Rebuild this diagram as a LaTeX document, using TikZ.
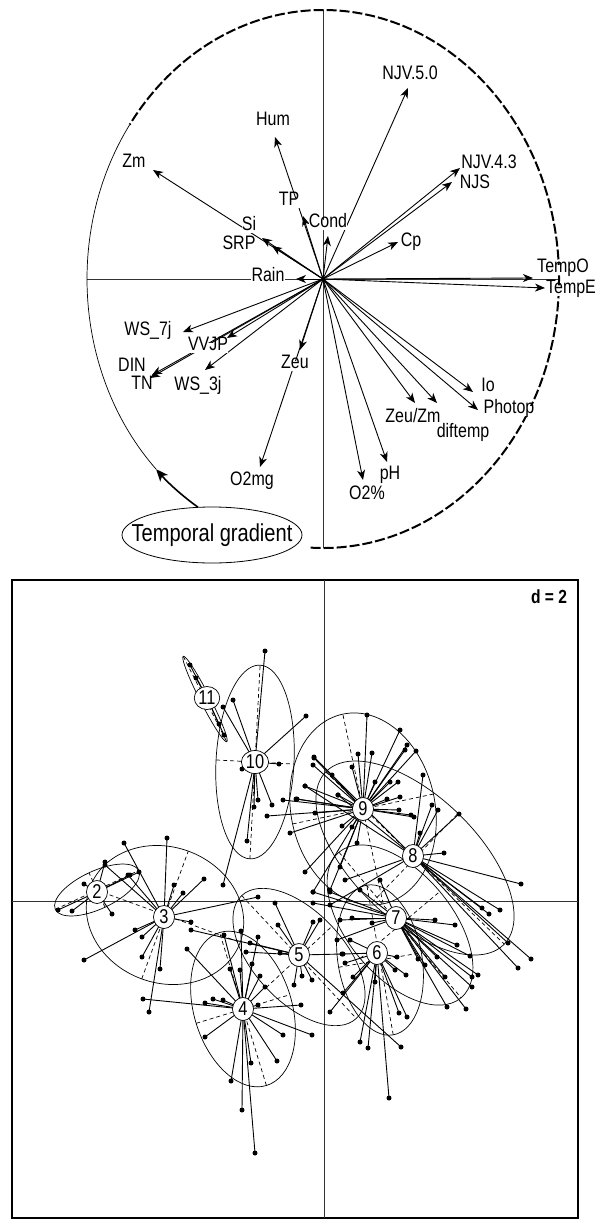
\documentclass[tikz,border=0pt]{standalone}
\usepackage{fontspec}
\setmainfont{Liberation Sans}[FakeStretch=0.82]
\usetikzlibrary{shapes.geometric, arrows.meta}

% ellipse of one group, with its two axes dashed
\newcommand{\grpell}[5]{%
  \begin{scope}[shift={(#1,-#2)}, rotate=#5]
    \draw[ell] (0,0) ellipse [x radius=#3, y radius=#4];
    \draw[ell, dash pattern=on 4pt off 3pt] (-#3,0) -- (#3,0) (0,-#4) -- (0,#4);
  \end{scope}}

\begin{document}
\begin{tikzpicture}[x=1pt, y=1pt,
  axis/.style={line width=0.8pt, black!80},
  varrow/.style={-{Stealth[length=10pt, width=8pt, inset=3pt]}, line width=0.9pt},
  lbl/.style={fill=white, inner sep=0.3pt, text height=0.72em, text depth=0.2em,
    font=\fontsize{19.5}{21}\selectfont},
  gradtext/.style={inner sep=0pt, font=\fontsize{24.5}{26}\selectfont},
  ell/.style={line width=0.7pt},
  ray/.style={line width=0.9pt},
  obs/.style={circle, fill=black, inner sep=0pt, minimum size=5pt},
  grpnum/.style={ellipse, draw, fill=white, line width=0.7pt, inner sep=0.5pt,
    minimum width=21pt, minimum height=23pt, font=\fontsize{20}{22}\selectfont}]

  \useasboundingbox (0,0) rectangle (596,-1220);

  % ===== correlation circle =====
  \coordinate (O) at (323,-279);
  \draw[axis] (323,-10) -- (323,-548);
  \draw[axis] (87,-279) -- (559,-279);

  \draw[line width=0.7pt] (O) ++(145:236 and 269)
    arc[start angle=145, end angle=225, x radius=236, y radius=269];
  \draw[line width=2pt, dash pattern=on 10pt off 3pt] (O) ++(-93:236 and 269)
    arc[start angle=-93, end angle=145, x radius=236, y radius=269];
  \draw[line width=1.6pt, -{Stealth[length=12pt, width=10pt, inset=3pt]}] (O) ++(238:236 and 269)
    arc[start angle=238, end angle=225, x radius=236, y radius=269];

  % arrow tips
  \foreach \n/\tx/\ty in {NJVa/408/88, Hum/275/137, Zm/153/170, TP/303/216, Cond/328/236,
      Si/262/238, SRP/272/246, NJVb/460/168, NJS/452/182, Cp/398/242, Rain/296/279,
      TempO/533/278, TempE/545/288, WSa/183/332, VVJP/227/338, DIN/152/375, TN/150/378,
      WSb/205/370, Zeu/300/350, Omg/260/467, Opc/363/480, pH/387/462, ZeuZm/415/403,
      diftemp/437/403, Io/473/392, Photop/478/410}
    \coordinate (t\n) at (\tx,-\ty);
  \foreach \n in {NJVa, Hum, Zm, TP, Cond, Si, SRP, NJVb, NJS, Cp, Rain, TempO, TempE,
      WSa, VVJP, DIN, TN, WSb, Zeu, Omg, Opc, pH, ZeuZm, diftemp, Io, Photop}
    \draw[varrow] (O) -- (t\n);

  % labels
  \foreach \n/\lx/\ly/\txt in {NJVa/410/77/NJV.5.0, Hum/273/123/Hum, Zm/134/165/Zm,
      TP/289/203/TP, Cond/328/225/Cond, Si/249/228/Si, SRP/239/247/SRP,
      NJVb/489/166/NJV.4.3, NJS/475/186/NJS, Cp/411/244/Cp, Rain/268/279/Rain,
      TempO/563/270/TempO, TempE/571/291/TempE, WSa/148/333/WS\_7j, VVJP/208/348/VVJP,
      DIN/132/369/DIN, TN/142/387/TN, WSb/198/388/WS\_3j, Zeu/295/366/Zeu,
      Omg/252/483/O2mg, Opc/367/497/O2\%, pH/390/477/pH, diftemp/463/435/diftemp,
      Io/488/389/Io, Photop/509/411/Photop}
    \node[lbl] (l\n) at (\lx,-\ly) {\txt};
  \node[lbl] (lZeuZm) at (413,-420) {Zeu/Zm};

  \coordinate (tgc) at (212,-535);
  \draw[line width=0.8pt, fill=white] (tgc) ellipse [x radius=90, y radius=28];
  \node[gradtext] (tg) at (tgc) {Temporal gradient};

  % ===== factorial map =====
  \draw[line width=1.3pt] (12,-580) rectangle (578,-1218);
  \draw[axis] (324,-580) -- (324,-1218);
  \draw[axis] (12,-901) -- (578,-901);
  \node[font=\fontsize{19}{21}\selectfont\bfseries] (dd) at (549,-597) {d = 2};

  % ellipses
  \grpell{255}{762}{39}{97}{-3}
  \grpell{205}{699}{48}{5}{-63}
  \grpell{97}{890}{46}{19}{25}
  \grpell{165}{915}{80}{68}{-20}
  \grpell{243}{1009}{49}{80}{17}
  \grpell{299}{957}{84}{45}{-47}
  \grpell{380}{960}{42}{76}{10}
  \grpell{400}{925}{95}{52}{-50}
  \grpell{415}{858}{124}{62}{-44}
  \grpell{363}{809}{72}{97}{12}

  % group centres
  \foreach \g/\cx/\cy in {2/97/892, 3/164/917, 4/243/1009, 5/299/955, 6/377/953,
      7/396/918, 8/413/856, 9/363/809, 10/255/762, 11/207/698}
    \coordinate (c\g) at (\cx,-\cy);

  % stars
  \foreach \px/\py in {58/910, 72/911, 112/914, 105/862, 130/875, 139/872, 84/884}
    \draw[ray] (c2) -- (\px,-\py) node[obs] {};
  \foreach \px/\py in {124/843, 167/838, 174/885, 183/893, 204/879, 84/960, 135/930,
      142/937, 142/957, 160/969, 149/1012, 191/922, 258/897, 105/865, 128/875}
    \draw[ray] (c3) -- (\px,-\py) node[obs] {};
  \foreach \px/\py in {205/1003, 213/999, 223/1000, 230/969, 240/970, 252/964, 260/976,
      265/987, 258/1005, 283/1035, 277/1061, 251/1063, 231/1081, 242/1110, 255/1153,
      205/1037, 187/949, 224/935, 241/931, 258/937, 143/999, 312/1035, 301/1005}
    \draw[ray] (c4) -- (\px,-\py) node[obs] {};
  \foreach \px/\py in {302/976, 312/980, 313/922, 320/920, 342/954, 294/985, 401/1047,
      280/953, 278/925, 275/903, 246/952, 250/943, 191/930}
    \draw[ray] (c5) -- (\px,-\py) node[obs] {};
  \foreach \px/\py in {330/1012, 343/993, 353/977, 360/1042, 368/1048, 389/1098, 399/1013,
      407/1017, 406/975, 395/970, 375/982, 345/963, 343/954, 397/957, 350/940}
    \draw[ray] (c6) -- (\px,-\py) node[obs] {};
  \foreach \px/\py in {435/920, 455/925, 457/945, 470/956, 478/975, 472/977, 472/987,
      466/1009, 447/1007, 445/977, 425/965, 437/957, 418/959, 313/892, 330/892, 340/920,
      352/918, 372/923, 337/940, 313/903, 360/890, 380/880}
    \draw[ray] (c7) -- (\px,-\py) node[obs] {};
  \foreach \px/\py in {423/775, 432/805, 438/810, 420/833, 459/814, 444/853, 521/884,
      500/910, 489/914, 482/908, 531/959, 518/968, 508/943, 314/757, 305/786, 338/795,
      345/880, 330/905}
    \draw[ray] (c8) -- (\px,-\py) node[obs] {};
  \foreach \px/\py in {367/715, 358/754, 372/753, 314/758, 313/765, 305/786, 296/799,
      315/813, 352/767, 332/775, 338/795, 342/826, 352/827, 290/833, 400/730, 407/745,
      416/751, 405/750, 375/782, 390/782, 398/782, 400/797, 387/799, 399/810, 411/815,
      414/817, 357/843, 340/867, 305/872, 313/892, 330/890, 267/816, 283/800, 297/799}
    \draw[ray] (c9) -- (\px,-\py) node[obs] {};
  \foreach \px/\py in {265/651, 233/700, 223/707, 242/769, 279/764, 272/805, 254/807,
      247/841, 306/716, 223/885, 258/800}
    \draw[ray] (c10) -- (\px,-\py) node[obs] {};
  \foreach \px/\py in {190/665, 196/678, 219/724, 224/735}
    \draw[ray] (c11) -- (\px,-\py) node[obs] {};

  % group labels
  \foreach \g in {2,...,11}
    \node[grpnum] (g\g) at (c\g) {\g};
\end{tikzpicture}
\end{document}
